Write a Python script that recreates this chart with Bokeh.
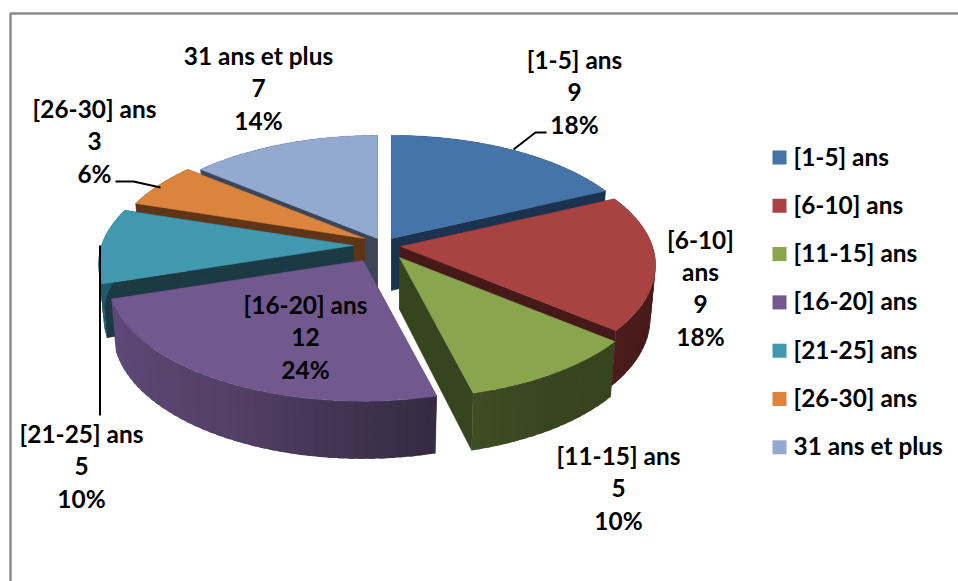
from math import sin, cos, radians

from bokeh.core.properties import value
from bokeh.embed import file_html
from bokeh.models import ColumnDataSource, Range1d
from bokeh.plotting import figure
from bokeh.resources import INLINE

# Survey data: length of service in years
categories = ["[1-5] ans", "[6-10] ans", "[11-15] ans", "[16-20] ans",
              "[21-25] ans", "[26-30] ans", "31 ans et plus"]
counts = [9, 9, 5, 12, 5, 3, 7]

# Slice styling
top_colors = ["#4674A8", "#A84342", "#89A54E", "#71588F", "#4198AF", "#DB843D", "#93A9CF"]
face_colors = ["#1C3350", "#461A19", "#374420", "#3F3150", "#1B3A44", "#5E3516", "#3C465B"]
rim_stops = [
    ("#1C3350", "#1C3350", "#1C3350"),
    ("#461A19", "#461A19", "#4A1C1B"),
    ("#374420", "#384520", "#3F4D24"),
    ("#352A42", "#544168", "#5E4A78"),
    ("#1E5A6B", "#1E5A6B", "#1E5A6B"),
    ("#5E3516", "#5E3516", "#5E3516"),
    ("#3C465B", "#3C465B", "#3C465B"),
]

# Projection of the disc onto the page
RADIUS_X = 252
RADIUS_Y = 119
PERSPECTIVE = 0.154
DEPTH = 52
BOTTOM_SCALE_X = 0.98
BOTTOM_SCALE_Y = 1.04
# Where each exploded slice has its tip on the page
tips = [(391, 238), (400, 246), (399, 257), (362.5, 260), (353, 245), (364, 238), (377, 238)]
# Draw from the back of the pie to the front
draw_order = [6, 0, 5, 4, 1, 3, 2]

FONT = "Lato"
FONT_SIZE = "24.4px"


def project(angle):
    a = radians(angle)
    x, y = sin(a), cos(a)
    s = 1 / (1 + PERSPECTIVE * y)
    return RADIUS_X * x * s, -RADIUS_Y * y * s


def top_point(tip, angle):
    dx, dy = project(angle)
    return tip[0] + dx, tip[1] + dy


def bottom_point(tip, angle):
    dx, dy = project(angle)
    return tip[0] + BOTTOM_SCALE_X * dx, tip[1] + DEPTH + BOTTOM_SCALE_Y * dy


def mix(c1, c2, t):
    a = [int(c1[i:i + 2], 16) for i in (1, 3, 5)]
    b = [int(c2[i:i + 2], 16) for i in (1, 3, 5)]
    return "#%02x%02x%02x" % tuple(round(p + (q - p) * t) for p, q in zip(a, b))


def shade(stops, t):
    if t < 0.5:
        return mix(stops[0], stops[1], t * 2)
    return mix(stops[1], stops[2], (t - 0.5) * 2)


p = figure(width=958, height=581, output_backend="svg", toolbar_location=None,
           x_range=Range1d(0, 958), y_range=Range1d(581, 0), min_border=0)
p.axis.visible = False
p.grid.visible = False
p.outline_line_color = None
p.background_fill_color = "#FFFFFF"
p.border_fill_color = "#FFFFFF"

# Chart frame, cut off by the page on the right and below
p.line([10, 10, 958], [581, 13, 13], line_color="#8C8C8C", line_width=2.5)

total = sum(counts)
edges = [0.0]
for c in counts:
    edges.append(edges[-1] + 360.0 * c / total)

for i in draw_order:
    start, end, tip = edges[i], edges[i + 1], tips[i]
    bottom_tip = (tip[0], tip[1] + DEPTH)

    # Radial cut faces
    for angle in (start, end):
        t0, b0 = top_point(tip, angle), bottom_point(tip, angle)
        p.patch([tip[0], t0[0], b0[0], bottom_tip[0]],
                [tip[1], t0[1], b0[1], bottom_tip[1]],
                fill_color=face_colors[i], line_color=face_colors[i], line_width=0.5)

    # Outer rim, shaded in narrow strips that overlap so no seams show
    steps = max(4, int(end - start) // 2)
    width = (end - start) / steps
    for k in range(steps):
        a0 = start + width * k
        a1 = min(end, a0 + width * 1.6)
        arc = [a0 + (a1 - a0) * n / 4 for n in range(5)]
        rim = [top_point(tip, a) for a in arc] + [bottom_point(tip, a) for a in reversed(arc)]
        color = shade(rim_stops[i], (k + 0.5) / steps)
        p.patch([q[0] for q in rim], [q[1] for q in rim], fill_color=color, line_color=None)

    # Top of the slice
    arc = [start + (end - start) * k / 60 for k in range(61)]
    outline = [top_point(tip, a) for a in arc]
    p.patch([tip[0]] + [q[0] for q in outline], [tip[1]] + [q[1] for q in outline],
            fill_color=top_colors[i], line_color=top_colors[i], line_width=0.5)

# Leader lines
for lx, ly in [([513, 535, 546], [149, 132, 132]),
               ([115, 133, 160], [181, 181, 187]),
               ([99.5, 99.5], [245, 415])]:
    p.line(lx, ly, line_color="#000000", line_width=2)

# Data labels: category, count and share, one per line
label_anchor = [(574, 59), (700, 239), (618, 455), (305, 304), (81, 433), (94, 108), (258, 55)]
label_wrap = {1: ["[6-10]", "ans"]}
LINE_STEP = 32.4
lx, ly, lt = [], [], []
for i, name in enumerate(categories):
    lines = label_wrap.get(i, [name]) + [str(counts[i]), f"{round(100 * counts[i] / total)}%"]
    for j, line in enumerate(lines):
        lx.append(label_anchor[i][0])
        ly.append(label_anchor[i][1] + j * LINE_STEP)
        lt.append(line)
p.text("x", "y", "t", source=ColumnDataSource(dict(x=lx, y=ly, t=lt)),
       text_font=value(FONT), text_font_size=value(FONT_SIZE), text_font_style="bold",
       text_color="#000000", text_align="center", text_baseline="middle")

# Legend
LEGEND_Y0, LEGEND_STEP = 157, 48.3
TEXT_LIFT = 1.5
legend_y = [LEGEND_Y0 + k * LEGEND_STEP for k in range(len(categories))]
p.rect([779] * len(categories), legend_y, width=14, height=14, fill_color=top_colors,
       line_color=None)
p.text([793] * len(categories), [y - TEXT_LIFT for y in legend_y], categories,
       text_font=value(FONT), text_font_size=value(FONT_SIZE), text_font_style="bold",
       text_color="#000000", text_align="left", text_baseline="middle")

open("out.html", "w").write(file_html(p, INLINE))
